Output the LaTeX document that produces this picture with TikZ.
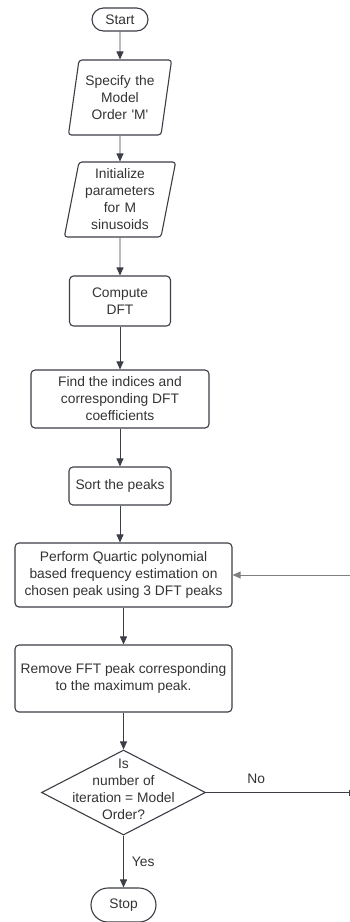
\documentclass[tikz,border=0pt]{standalone}
\usepackage{fontspec}
\setmainfont{Liberation Sans}
\usetikzlibrary{shapes.geometric,shapes.misc,arrows.meta}

\definecolor{linegray}{HTML}{3B3E45}
\definecolor{textgray}{HTML}{333333}

\tikzset{
  txt/.style={text=textgray, align=center, font=\fontsize{13.8}{17}\selectfont, inner sep=0pt},
  base/.style={txt, draw=linegray, line width=1.1pt},
  box/.style={base, rounded corners=4pt},
  term/.style={base, rounded rectangle},
  io/.style={base, trapezium, trapezium left angle=76.5, trapezium right angle=103.5,
             trapezium stretches=true, inner xsep=6pt, text width=70pt,
             minimum height=75pt, rounded corners=3pt},
  arr/.style={draw=linegray, line width=0.9pt, -{Triangle[length=8pt,width=7pt]}},
}

\begin{document}
\begin{tikzpicture}[x=1pt,y=-1pt]
        \useasboundingbox (0,0) rectangle (350,922);

        % 流程中的各个框
        \node[term, minimum width=56pt, minimum height=23pt] (start) at (120,19.5) {Start};
        \node[io] (spec) at (120,97.5) {Specify the\\Model\\Order \textquotesingle M\textquotesingle};
        \node[io] (init) at (120,199.5) {Initialize\\parameters\\for M\\sinusoids};
        \node[box, minimum width=101pt, minimum height=50pt] (dft) at (120,301) {Compute\\DFT};
        \node[box, minimum width=178pt, minimum height=58pt] (find) at (120,399) {Find the indices and\\corresponding DFT\\coefficients};
        \node[box, minimum width=102pt, minimum height=38pt] (sort) at (120,486) {Sort the peaks};
        \node[box, minimum width=217pt, minimum height=64pt] (perf) at (123.5,575) {Perform Quartic polynomial\\based frequency estimation on\\chosen peak using 3 DFT peaks};
        \node[box, minimum width=217pt, minimum height=67pt] (rem) at (123.5,678.5) {Remove FFT peak corresponding\\to the maximum peak.};
        \node[base, diamond, minimum width=164pt, minimum height=85pt] (dec) at (123.5,792.5) {};
        \node[txt] (dectext) at (123.5,789) {Is\\number of\\iteration = Model\\Order?};
        \node[term, minimum width=65pt, minimum height=34pt] (stop) at (123.5,905) {Stop};

        % 连线
        \draw[arr] (start) -- (spec);
        \draw[arr] (spec) -- (init);
        \draw[arr] (init) -- (dft);
        \draw[arr] (dft) -- (find);
        \draw[arr] (find) -- (sort);
        \draw[arr] (sort.south) -- (sort.south |- perf.north);
        \draw[arr] (perf) -- (rem);
        \draw[arr] (rem) -- (dec);
        \draw[arr] (dec.south) -- (stop.north) node[txt, midway, right=8pt] (yes) {Yes};

        % 回到上面的循环线
        \coordinate (noend) at (349.5,792.5);
        \coordinate (backin) at (350,575);
        \draw[draw=linegray, line width=0.9pt, -{Bar[width=6pt]}] (dec.east) -- (noend)
            node[txt, pos=0.35, above=8pt] (no) {No};
        \draw[arr, draw=gray] (backin) -- (perf.east);

\end{tikzpicture}
\end{document}
